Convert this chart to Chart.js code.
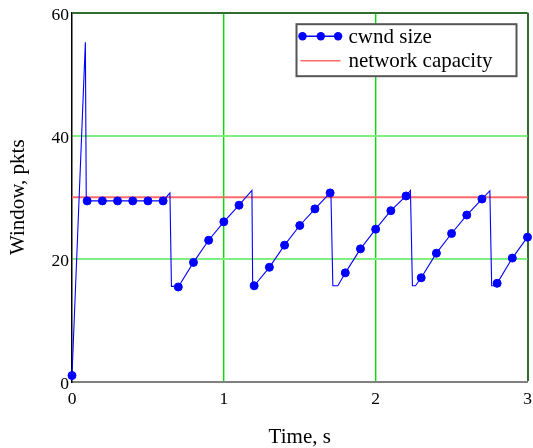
<!DOCTYPE html>
<html>
<head>
<meta charset="utf-8">
<script src="https://cdn.jsdelivr.net/npm/chart.js@4.4.1/dist/chart.umd.min.js"></script>
<style>
html,body{margin:0;padding:0;background:#fff;}
#wrap{width:533px;height:448px;position:relative;}
</style>
</head>
<body>
<div id="wrap"><canvas id="c" width="533" height="448"></canvas></div>
<script>
// ---- data ----
const traceTime = [0, 0.088, 0.094, 0.1, 0.2, 0.3, 0.4, 0.5, 0.6, 0.645, 0.655, 0.673,
  0.7, 0.8, 0.9, 1.0, 1.1, 1.185, 1.19,
  1.2, 1.3, 1.4, 1.5, 1.6, 1.7, 1.705, 1.718, 1.751,
  1.8, 1.9, 2.0, 2.1, 2.2, 2.229, 2.242, 2.262,
  2.3, 2.4, 2.5, 2.6, 2.7, 2.752, 2.764, 2.785,
  2.8, 2.9, 3.0];
const traceCwnd = [1, 55.2, 29.4, 29.4, 29.4, 29.4, 29.4, 29.4, 29.4, 30.7, 15.5, 15.5,
  15.4, 19.4, 23.0, 26.0, 28.7, 31.1, 15.6,
  15.6, 18.6, 22.2, 25.4, 28.1, 30.7, 31.0, 15.6, 15.6,
  17.7, 21.6, 24.8, 27.8, 30.2, 31.1, 15.6, 15.6,
  16.9, 20.9, 24.1, 27.1, 29.7, 31.05, 15.6, 15.6,
  16.0, 20.1, 23.5];
const sampleTime = [0, 0.1, 0.2, 0.3, 0.4, 0.5, 0.6, 0.7, 0.8, 0.9, 1.0, 1.1, 1.2, 1.3, 1.4, 1.5,
  1.6, 1.7, 1.8, 1.9, 2.0, 2.1, 2.2, 2.3, 2.4, 2.5, 2.6, 2.7, 2.8, 2.9, 3.0];
const sampleCwnd = [1, 29.4, 29.4, 29.4, 29.4, 29.4, 29.4, 15.4, 19.4, 23.0, 26.0, 28.7, 15.6, 18.6, 22.2, 25.4,
  28.1, 30.7, 17.7, 21.6, 24.8, 27.8, 30.2, 16.9, 20.9, 24.1, 27.1, 29.7, 16.0, 20.1, 23.5];
const capacityTime = [0, 3];
const capacityValue = [30, 30];
const xTicks = [0, 1, 2, 3];
const yTicks = [0, 20, 40, 60];
const seriesNames = ['cwnd size', 'network capacity'];
const axisTitles = {x: 'Time, s', y: 'Window, pkts'};

const BLUE = '#0000ff';
const RED = '#ff6a6a';
const DARKGREEN = '#2f6e2f';
const SERIF = "'Liberation Serif', 'Times New Roman', serif";

const toXY = (xs, ys) => xs.map((x, i) => ({x: x, y: ys[i]}));

const legendBox = {
  id: 'legendBox',
  afterDatasetsDraw(chart) {
    const ctx = chart.ctx, a = chart.chartArea;
    const L = a.right - 231, T = a.top + 11.5, W = 220, H = 52;
    ctx.save();
    ctx.fillStyle = '#fff';
    ctx.fillRect(L, T, W, H);
    ctx.strokeStyle = '#555';
    ctx.lineWidth = 2;
    ctx.strokeRect(L, T, W, H);
    const y1 = T + 12, y2 = T + 36.5;
    ctx.strokeStyle = BLUE; ctx.lineWidth = 1.5;
    ctx.beginPath(); ctx.moveTo(L + 6, y1); ctx.lineTo(L + 42, y1); ctx.stroke();
    ctx.fillStyle = BLUE;
    [L + 6, L + 24.3, L + 41.6].forEach(px => { ctx.beginPath(); ctx.arc(px, y1, 4.2, 0, Math.PI * 2); ctx.fill(); });
    ctx.strokeStyle = RED; ctx.lineWidth = 1.5;
    ctx.beginPath(); ctx.moveTo(L + 4, y2); ctx.lineTo(L + 44, y2); ctx.stroke();
    ctx.fillStyle = '#000';
    ctx.font = "21px " + SERIF;
    ctx.textBaseline = 'middle';
    ctx.textAlign = 'left';
    ctx.fillText(seriesNames[0], L + 52, y1 + 1);
    ctx.fillText(seriesNames[1], L + 52, y2 + 1);
    ctx.restore();
  }
};

new Chart(document.getElementById('c'), {
  type: 'scatter',
  data: {
    datasets: [
      {label: seriesNames[0] + ' trace', data: toXY(traceTime, traceCwnd), showLine: true,
        borderColor: BLUE, borderWidth: 1.1, pointRadius: 0, fill: false, tension: 0, order: 1},
      {label: seriesNames[0], data: toXY(sampleTime, sampleCwnd), showLine: false,
        backgroundColor: BLUE, borderColor: BLUE, borderWidth: 1, pointRadius: 4, order: 0},
      {label: seriesNames[1], data: toXY(capacityTime, capacityValue), showLine: true,
        borderColor: RED, borderWidth: 2, pointRadius: 0, fill: false, order: 2}
    ]
  },
  options: {
    responsive: false,
    animation: false,
    clip: false,
    layout: {padding: {top: 12.7, right: 5.5, left: 0, bottom: 0}},
    plugins: {legend: {display: false}, tooltip: {enabled: false}},
    scales: {
      x: {
        type: 'linear', min: 0, max: 3,
        afterBuildTicks: s => { s.ticks = xTicks.map(v => ({value: v})); },
        afterFit: s => { s.height = 66.3; s.paddingLeft = 0; s.paddingRight = 0; },
        ticks: {font: {family: SERIF, size: 17.5}, color: '#000', padding: 7, maxRotation: 0},
        grid: {
          drawTicks: false,
          color: ['rgba(0,0,0,0)', '#00dd00', '#00dd00', DARKGREEN],
          lineWidth: [1, 1.4, 1.4, 2]
        },
        border: {display: true, color: '#808080', width: 2},
        title: {display: true, text: axisTitles.x, font: {family: SERIF, size: 21}, color: '#000', padding: {top: 0, bottom: -2.5}}
      },
      y: {
        type: 'linear', min: 0, max: 60,
        afterBuildTicks: s => { s.ticks = yTicks.map(v => ({value: v})); },
        afterFit: s => { s.width = 72; s.paddingTop = 0; s.paddingBottom = 0; },
        ticks: {font: {family: SERIF, size: 17.5}, color: '#000', padding: 3, labelOffset: 2.5},
        grid: {
          drawTicks: false,
          color: ['rgba(0,0,0,0)', '#80ee80', '#80ee80', DARKGREEN],
          lineWidth: [2, 2, 2, 2]
        },
        border: {display: true, color: '#000', width: 1.5},
        title: {display: true, text: axisTitles.y, font: {family: SERIF, size: 21}, color: '#000', padding: {top: 6, bottom: 0}}
      }
    }
  },
  plugins: [legendBox]
});
</script>
</body>
</html>
